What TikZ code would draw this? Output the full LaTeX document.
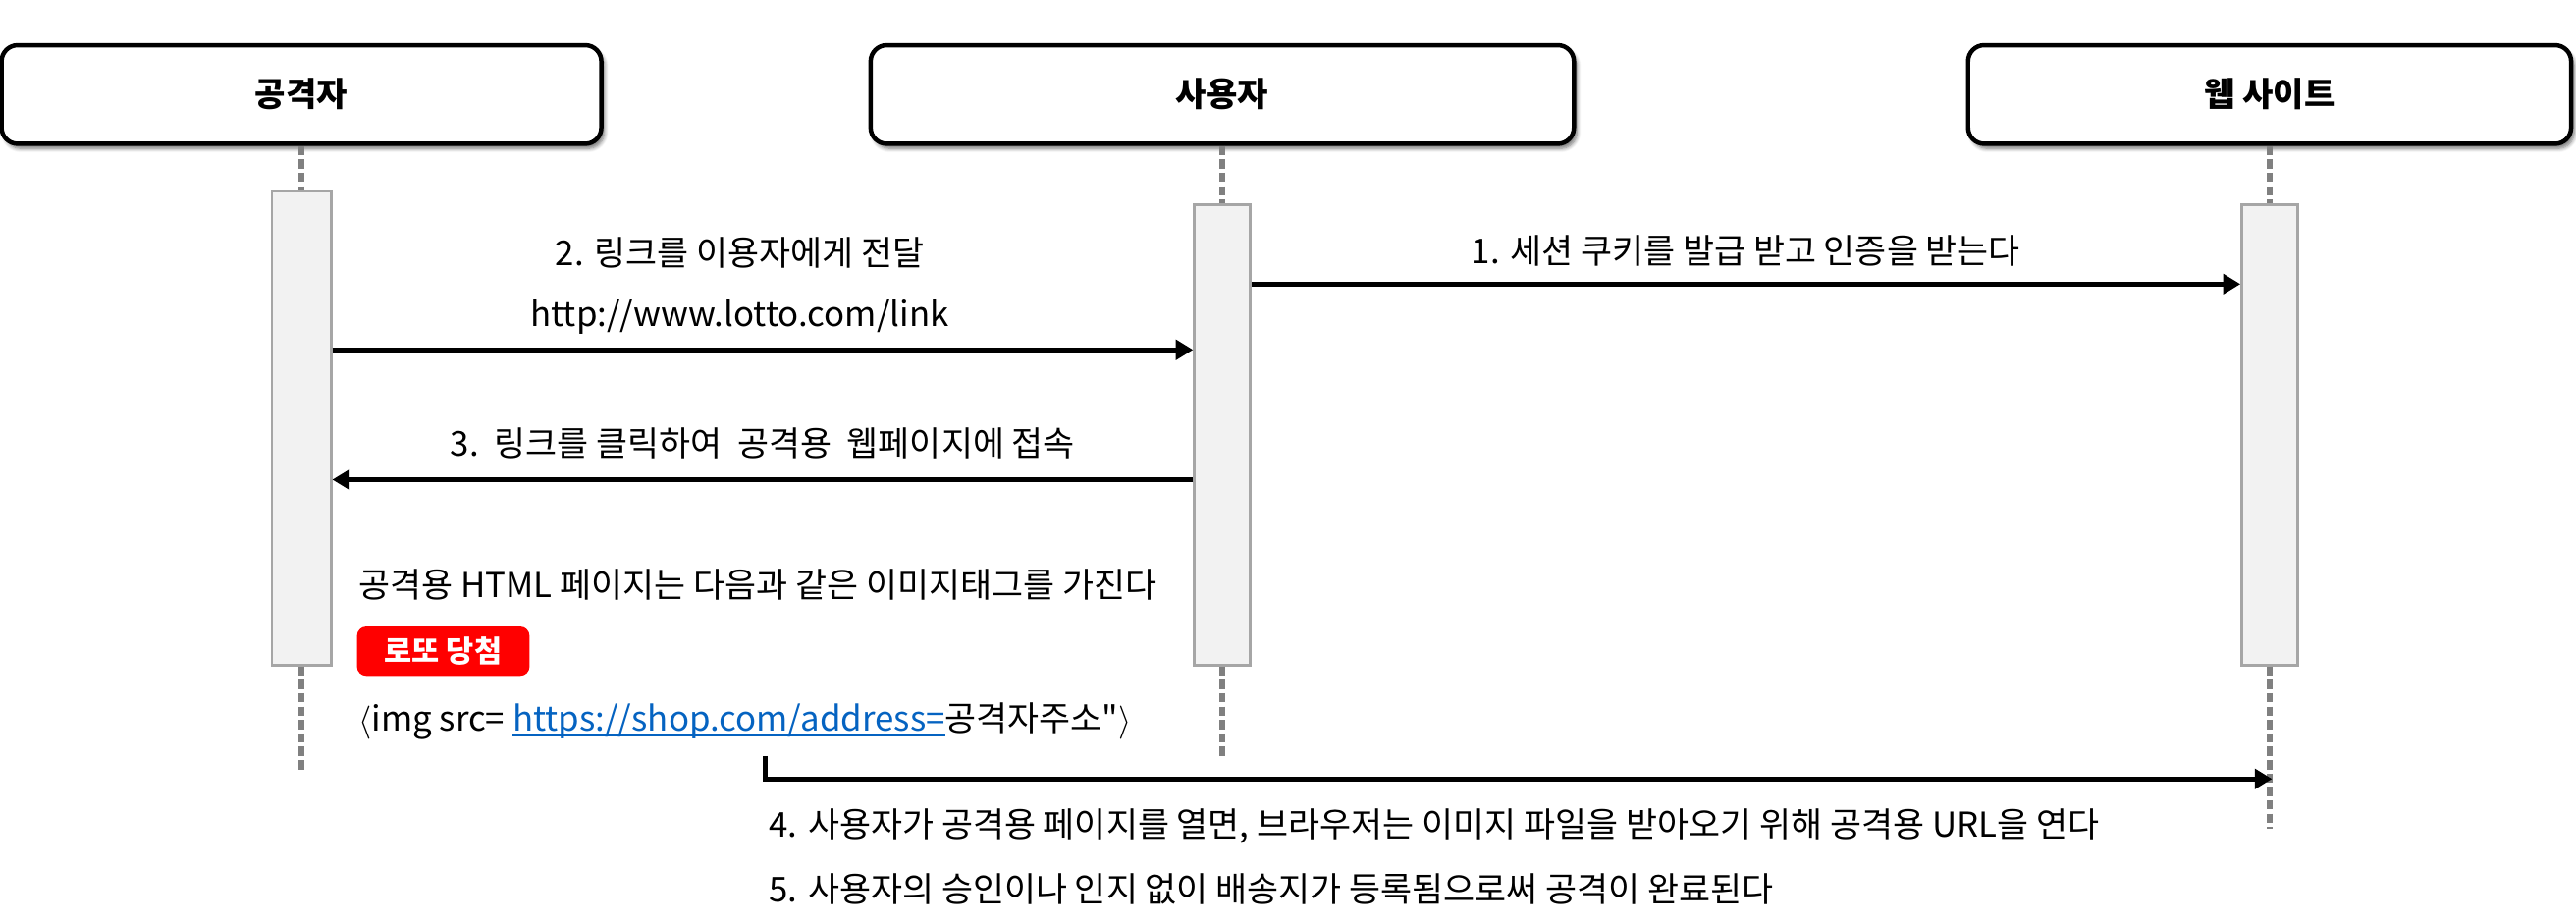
\documentclass[tikz,border=0pt]{standalone}
\usepackage{fontspec}
\newfontfamily\krfont{Noto Sans CJK KR}
\usepackage{xcolor}
\usetikzlibrary{arrows.meta,positioning,shadows.blur}
\definecolor{lifegray}{HTML}{808080}
\definecolor{bargray}{HTML}{A6A6A6}
\definecolor{barfill}{HTML}{F2F2F2}
\definecolor{linkblue}{HTML}{0563C1}
\definecolor{lottored}{HTML}{FF0000}
\newcommand\linktext[1]{{\color{linkblue}\setbox0\hbox{#1}%
  \rlap{\rule[-2.2pt]{\wd0}{1pt}}\box0}}

\begin{document}
\begin{tikzpicture}[
  x=0.025cm,y=-0.025cm,
  every node/.style={font=\krfont\fontsize{14.8}{17}\selectfont,inner sep=0pt},
  actor/.style={draw=black,line width=1.9pt,rounded corners=7pt,fill=white,
                minimum height=1.5cm,font=\krfont\fontsize{14.5}{17}\selectfont\bfseries,
                blur shadow={shadow xshift=1.3pt,shadow yshift=-2pt,
                             shadow blur steps=6,shadow opacity=55}},
  bar/.style={draw=bargray,line width=1.1pt,fill=barfill,minimum width=0.85cm},
  lifeline/.style={draw=lifegray,line width=2.2pt,dash pattern=on 4pt off 1.8pt},
  msg/.style={draw=black,line width=2pt,-{Triangle[length=7.5pt,width=8.5pt]}},
  prize/.style={fill=lottored,rounded corners=4pt,text=white,
                font=\krfont\fontsize{13}{15}\selectfont\bfseries,
                minimum width=2.625cm,minimum height=0.75cm}
]
\useasboundingbox (0,0) rectangle (1568,562);
\node[actor,minimum width=9.125cm] (attacker) at (183.5,57.5) {공격자};
\node[actor,minimum width=10.7cm] (user) at (744,57.5) {사용자};
\node[actor,minimum width=9.175cm] (site) at (1381.5,57.5) {웹 사이트};
\node[bar,minimum width=0.9cm,minimum height=7.2cm,below=0.675cm of attacker] (abar) {};
\node[bar,minimum height=7cm,below=0.875cm of user] (ubar) {};
\node[bar,minimum height=7cm,below=0.875cm of site] (sbar) {};
\coordinate[below=1.625cm of abar] (aend);
\coordinate[below=1.425cm of ubar] (uend);
\coordinate[below=2.475cm of sbar] (send);
\draw[lifeline] (attacker) -- (abar) (abar) -- (aend);
\draw[lifeline] (user) -- (ubar) (ubar) -- (uend);
\draw[lifeline] (site) -- (sbar) (sbar) -- (send);
\draw[msg] ([yshift=-1.225cm]ubar.north east) coordinate (m1s) -- (m1s -| sbar.west)
  node[midway,yshift=0.5cm] (m1txt) {1. 세션 쿠키를 발급 받고 인증을 받는다};
\draw[msg] ([yshift=-2.425cm]abar.north east) coordinate (m2s) -- (m2s -| ubar.west)
  node[midway,yshift=0.5cm,xshift=-0.35cm] (m2url) {http://www.lotto.com/link}
  node[midway,yshift=1.475cm,xshift=-0.35cm] (m2txt) {2. 링크를 이용자에게 전달};
\draw[msg] ([yshift=-4.2cm]ubar.north west) coordinate (m3s) -- (m3s -| abar.east)
  node[midway,yshift=0.55cm] (m3txt) {3.\ \ 링크를 클릭하여\ \ 공격용\ \ 웹페이지에 접속};
\node[anchor=west] (note) at (218,356) {공격용 HTML 페이지는 다음과 같은 이미지태그를 가진다};
\node[prize,anchor=north west] (lotto) at (217,381) {로또 당첨};
\node[anchor=west] (imgtag) at (218,439)
  {$\langle$img src= \linktext{https://shop.com/address=}공격자주소"$\rangle$};
\coordinate (m4s) at (466,460);
\coordinate (m4e) at (1383,474);
\draw[msg] (m4s) |- (m4e);
\node[anchor=west] (step4) at (468,503)
  {4. 사용자가 공격용 페이지를 열면, 브라우저는 이미지 파일을 받아오기 위해 공격용 URL을 연다};
\node[anchor=west] (step5) at (468,541)
  {5. 사용자의 승인이나 인지 없이 배송지가 등록됨으로써 공격이 완료된다};
\end{tikzpicture}
\end{document}
